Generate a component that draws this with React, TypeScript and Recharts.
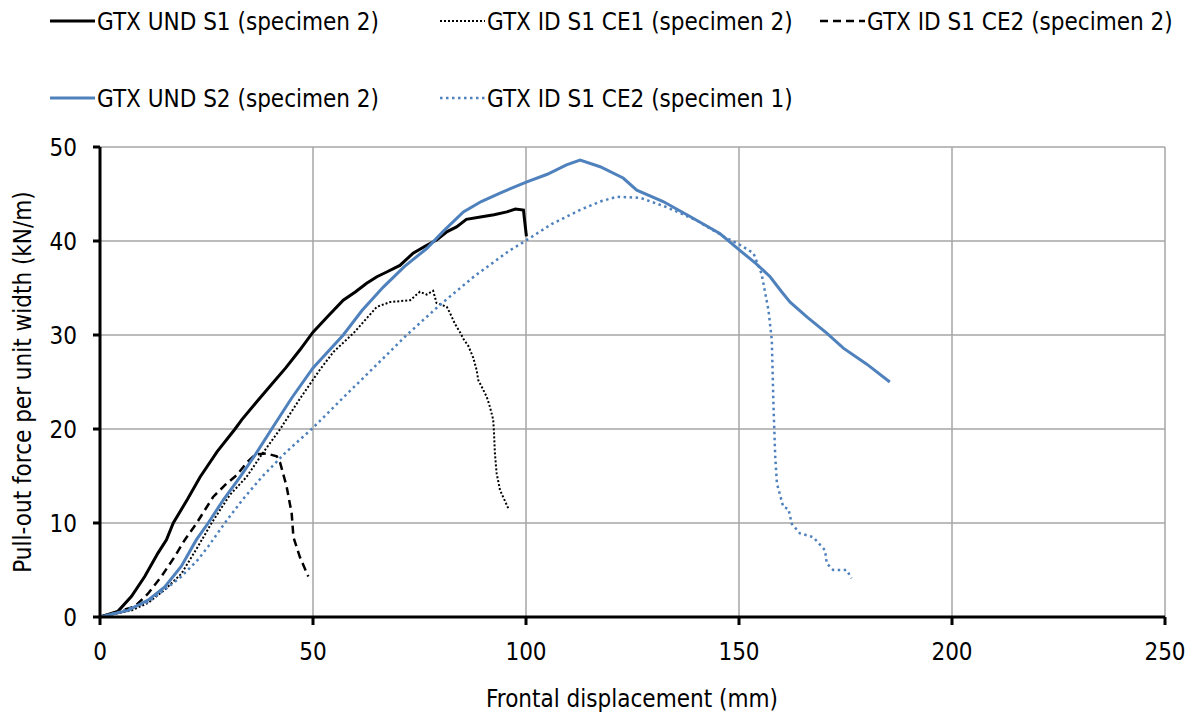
import { LineChart, Line, XAxis, YAxis, CartesianGrid } from 'recharts';

const FONT = "'DejaVu Sans Condensed', 'DejaVu Sans', sans-serif";
const BLUE = '#4f81bd';

// GTX UND S1 (specimen 2)
const undS1X = [0, 4.2, 7.4, 10.5, 13.6, 15.6, 17.2, 20.5, 23.5, 27.5, 31.7, 33.3, 36.8, 40.2, 43.6, 46.9, 50, 53.5, 57.1, 60, 62.6, 65, 67.3, 70.4, 73.5, 76.5, 79, 81.5, 83.7, 86, 90, 92.5, 95.5, 97.5, 99.4, 100.1];
const undS1Y = [0, 0.6, 2.2, 4.3, 6.8, 8.2, 10, 12.5, 14.9, 17.6, 20, 21, 22.9, 24.7, 26.5, 28.4, 30.3, 32, 33.7, 34.6, 35.5, 36.2, 36.7, 37.4, 38.7, 39.5, 40.1, 41, 41.5, 42.3, 42.6, 42.8, 43.1, 43.4, 43.3, 40.5];

// GTX ID S1 CE1 (specimen 2)
const ce1X = [0, 7.4, 11.3, 15.2, 19.1, 23, 26.2, 30.5, 34.4, 38, 42.3, 46.9, 51.6, 54.8, 59.5, 65, 68.1, 72.8, 75.1, 76.7, 78.2, 79, 81.4, 82.2, 83.3, 84.5, 85.3, 86.5, 87.6, 88.4, 88.8, 89.6, 90.8, 91.5, 92.3, 92.5, 92.7, 93.1, 93.9, 95.1, 96];
const ce1Y = [0, 0.7, 1.5, 2.9, 4.6, 7.5, 10, 13, 14.9, 17.3, 20, 23.2, 26.3, 28.2, 30.2, 33, 33.5, 33.7, 34.6, 34.3, 34.7, 33.4, 33, 32.3, 31.2, 30.3, 29.6, 28.8, 27.6, 26.3, 25.2, 24.5, 23.4, 22.4, 21, 19.5, 17.4, 15.3, 13.5, 12.3, 11.4];

// GTX ID S1 CE2 (specimen 2)
const ce2s2X = [0, 8.1, 11.3, 14.4, 17.5, 19.9, 22.7, 26.6, 29.5, 32.1, 34.6, 36.5, 39, 41.5, 42.3, 43.8, 45, 45.4, 46.9, 48.9];
const ce2s2Y = [0, 1.1, 2.5, 4.3, 6.4, 8.2, 10, 12.8, 14.1, 15.1, 16.5, 17.3, 17.4, 17.1, 16.4, 13.9, 11, 8.5, 6.4, 4.3];

// GTX UND S2 (specimen 2)
const undS2X = [0, 6.6, 11.3, 15.2, 19.1, 22.6, 25.4, 29, 32.9, 36.5, 40.3, 45, 50, 57.1, 61.5, 66.5, 71.5, 76.7, 80.5, 85.3, 89.5, 93.9, 100.2, 105, 109.5, 112.7, 117.4, 122.8, 126, 132.2, 138.5, 145.5, 150.2, 154, 157.3, 160, 162, 166, 170.6, 174.5, 180, 185.4];
const undS2Y = [0, 0.7, 1.8, 3.2, 5.4, 8.2, 10, 12.5, 14.9, 17.3, 20, 23.3, 26.5, 30, 32.6, 35.1, 37.3, 39.2, 41, 43.1, 44.2, 45.1, 46.3, 47.1, 48.1, 48.6, 47.9, 46.7, 45.4, 44.2, 42.6, 40.8, 39, 37.6, 36.2, 34.6, 33.5, 31.9, 30.2, 28.6, 26.9, 25];

// GTX ID S1 CE2 (specimen 1)
const ce2s1X = [0, 5, 11.3, 15.2, 19.1, 23, 25.4, 29.3, 33.5, 38, 43.8, 49.7, 57, 64.2, 72, 79.8, 88, 96.2, 100.2, 106, 112.7, 117.4, 121.3, 126.8, 133, 140, 146.3, 150.2, 153.4, 155.3, 156.9, 157.7, 158.1, 158.5, 158.9, 160.4, 161.6, 162.4, 164.3, 167.4, 170.2, 170.6, 172.1, 175.3, 176.4];
const ce2s1Y = [0, 0.6, 1.6, 2.9, 4.3, 6.1, 7.5, 10, 12.5, 14.9, 17.6, 20, 23.3, 26.5, 30, 33.2, 36.3, 39, 40.1, 41.8, 43.3, 44.2, 44.7, 44.6, 43.6, 42.2, 40.5, 39.6, 38.7, 36.5, 32.7, 29.5, 22.4, 17.1, 14.2, 11.7, 11.5, 9.9, 8.9, 8.5, 7.1, 5.7, 5, 5, 4.1];

const xTicks = [0, 50, 100, 150, 200, 250];
const yTicks = [0, 10, 20, 30, 40, 50];

const toPoints = (xs: number[], ys: number[]) => xs.map((x, i) => ({ x, y: ys[i] }));

const series = [
  { name: 'GTX UND S1 (specimen 2)', data: toPoints(undS1X, undS1Y), color: '#000', width: 3, dash: undefined },
  { name: 'GTX ID S1 CE1 (specimen 2)', data: toPoints(ce1X, ce1Y), color: '#000', width: 2, dash: '2 2' },
  { name: 'GTX ID S1 CE2 (specimen 2)', data: toPoints(ce2s2X, ce2s2Y), color: '#000', width: 2.5, dash: '8 5' },
  { name: 'GTX UND S2 (specimen 2)', data: toPoints(undS2X, undS2Y), color: BLUE, width: 3, dash: undefined },
  { name: 'GTX ID S1 CE2 (specimen 1)', data: toPoints(ce2s1X, ce2s1Y), color: BLUE, width: 2.5, dash: '2.5 3.5' },
];

// legend slots: [sample start x, row baseline y]
const legendPos = [
  [50, 30],
  [440, 30],
  [820, 30],
  [50, 107],
  [440, 107],
];

function LegendOverlay() {
  return (
    <svg width={1195} height={130} style={{ position: 'absolute', left: 0, top: 0 }}>
      {series.map((s, i) => {
        const [x, y] = legendPos[i];
        return (
          <g key={s.name}>
            <line x1={x} x2={x + 45} y1={y - 9} y2={y - 9} stroke={s.color} strokeWidth={s.width} strokeDasharray={s.dash} />
            <text x={x + 47} y={y} fontSize={24} fill="#000" fontFamily={FONT}>{s.name}</text>
          </g>
        );
      })}
    </svg>
  );
}

export default function App() {
  return (
    <div style={{ position: 'absolute', left: 0, top: 0, width: 1195, height: 718, background: '#fff', fontFamily: FONT }}>
      <LineChart width={1195} height={718} margin={{ top: 147, right: 30, left: 0, bottom: 0 }}>
        <CartesianGrid stroke="#a6a6a6" strokeWidth={1.5} />
        <XAxis
          type="number"
          dataKey="x"
          domain={[0, 250]}
          ticks={xTicks}
          height={101}
          tickSize={8}
          tickMargin={18}
          axisLine={{ stroke: '#000', strokeWidth: 3 }}
          tickLine={{ stroke: '#000', strokeWidth: 3 }}
          tick={{ fontSize: 24, fill: '#000', fontFamily: FONT }}
          label={{
            content: () => (
              <text x={632} y={707} textAnchor="middle" fontSize={24} fill="#000" fontFamily={FONT}>
                Frontal displacement (mm)
              </text>
            ),
          }}
        />
        <YAxis
          type="number"
          domain={[0, 50]}
          ticks={yTicks}
          width={100}
          tickSize={7}
          tickMargin={16}
          axisLine={{ stroke: '#000', strokeWidth: 3 }}
          tickLine={{ stroke: '#000', strokeWidth: 3 }}
          tick={{ fontSize: 24, fill: '#000', fontFamily: FONT }}
          label={{
            content: () => (
              <text x={31} y={382} transform="rotate(-90 31 382)" textAnchor="middle" fontSize={24} fill="#000" fontFamily={FONT}>
                Pull-out force per unit width (kN/m)
              </text>
            ),
          }}
        />
        {series.map((s) => (
          <Line
            key={s.name}
            data={s.data}
            dataKey="y"
            type="linear"
            stroke={s.color}
            strokeWidth={s.width}
            strokeDasharray={s.dash}
            dot={false}
            isAnimationActive={false}
          />
        ))}
      </LineChart>
      <LegendOverlay />
    </div>
  );
}
